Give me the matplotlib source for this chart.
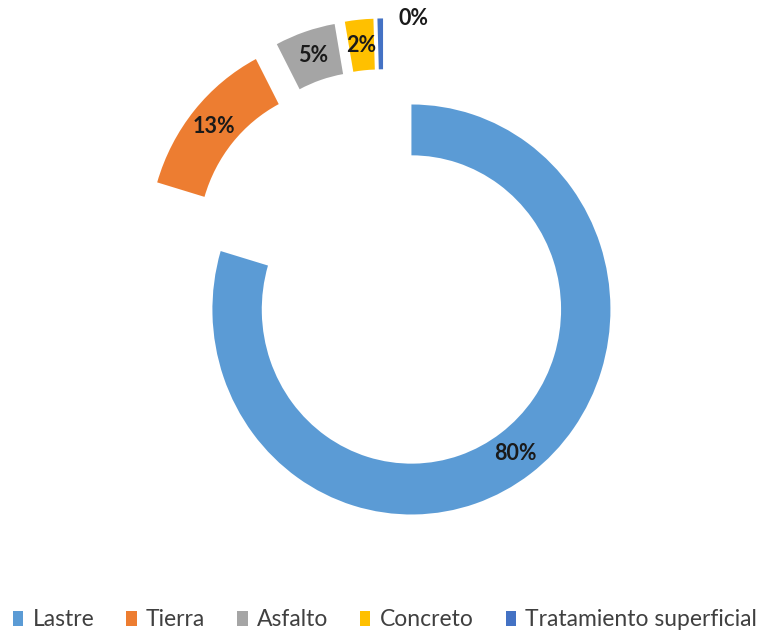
import numpy as np
import matplotlib
matplotlib.use("Agg")
import matplotlib.pyplot as plt
from matplotlib.patches import Patch

categories = ["Lastre", "Tierra", "Asfalto", "Concreto", "Tratamiento superficial"]
values = [79.6, 12.75, 4.9, 2.3, 0.45]
colors = ["#5B9BD5", "#ED7D31", "#A5A5A5", "#FFC000", "#4472C4"]

plt.rcParams['font.family'] = ['Lato', 'DejaVu Sans']

W, H = 770, 634
fig = plt.figure(figsize=(W / 100, H / 100), dpi=100)
ax = fig.add_axes([0, 0, 1, 1])

sx, sy = 199.0, 205.0      # px per data unit
cx, cy = 383.7, 271.2      # center in px (from top)
xlim = (-cx / sx, (W - cx) / sx)
ylim = (-(H - cy) / sy, cy / sy)

explode = [0.233] * len(values)
width = 0.248
wedges, _ = ax.pie(values, colors=colors, startangle=90, counterclock=False,
                   explode=explode, radius=1.0,
                   wedgeprops=dict(width=width, edgecolor='none'),
                   frame=False)
ax.set_xlim(*xlim)
ax.set_ylim(*ylim)
ax.set_aspect('auto')
ax.axis('off')

total = sum(values)
for i, (w, v) in enumerate(zip(wedges, values)):
    lab = f"{round(v / total * 100):.0f}%"
    ccx, ccy = w.center
    th = np.deg2rad((w.theta1 + w.theta2) / 2)
    if v / total < 0.01:
        r = 1.02
        x = ccx + r * np.cos(th)
        y = ccy + r * np.sin(th)
        ax.annotate(lab, (x, y), xytext=(24, -3), textcoords='offset points',
                    ha='center', va='center', fontsize=15.5, fontweight='bold',
                    color='#1a1a1a')
    else:
        r = 1.0 - width / 2
        x = ccx + r * np.cos(th)
        y = ccy + r * np.sin(th)
        ax.text(x, y, lab, ha='center', va='center', fontsize=15.5,
                fontweight='bold', color='#1a1a1a')

handles = [Patch(facecolor=c, edgecolor='none') for c in colors]
fig.legend(handles, categories, loc='center', bbox_to_anchor=(0.5, 1 - 620 / H),
           ncol=5, frameon=False, fontsize=16.5, handlelength=0.45,
           handleheight=0.6, handletextpad=0.4, columnspacing=1.4,
           labelcolor='#404040')

fig.savefig("out.png", dpi=100)
